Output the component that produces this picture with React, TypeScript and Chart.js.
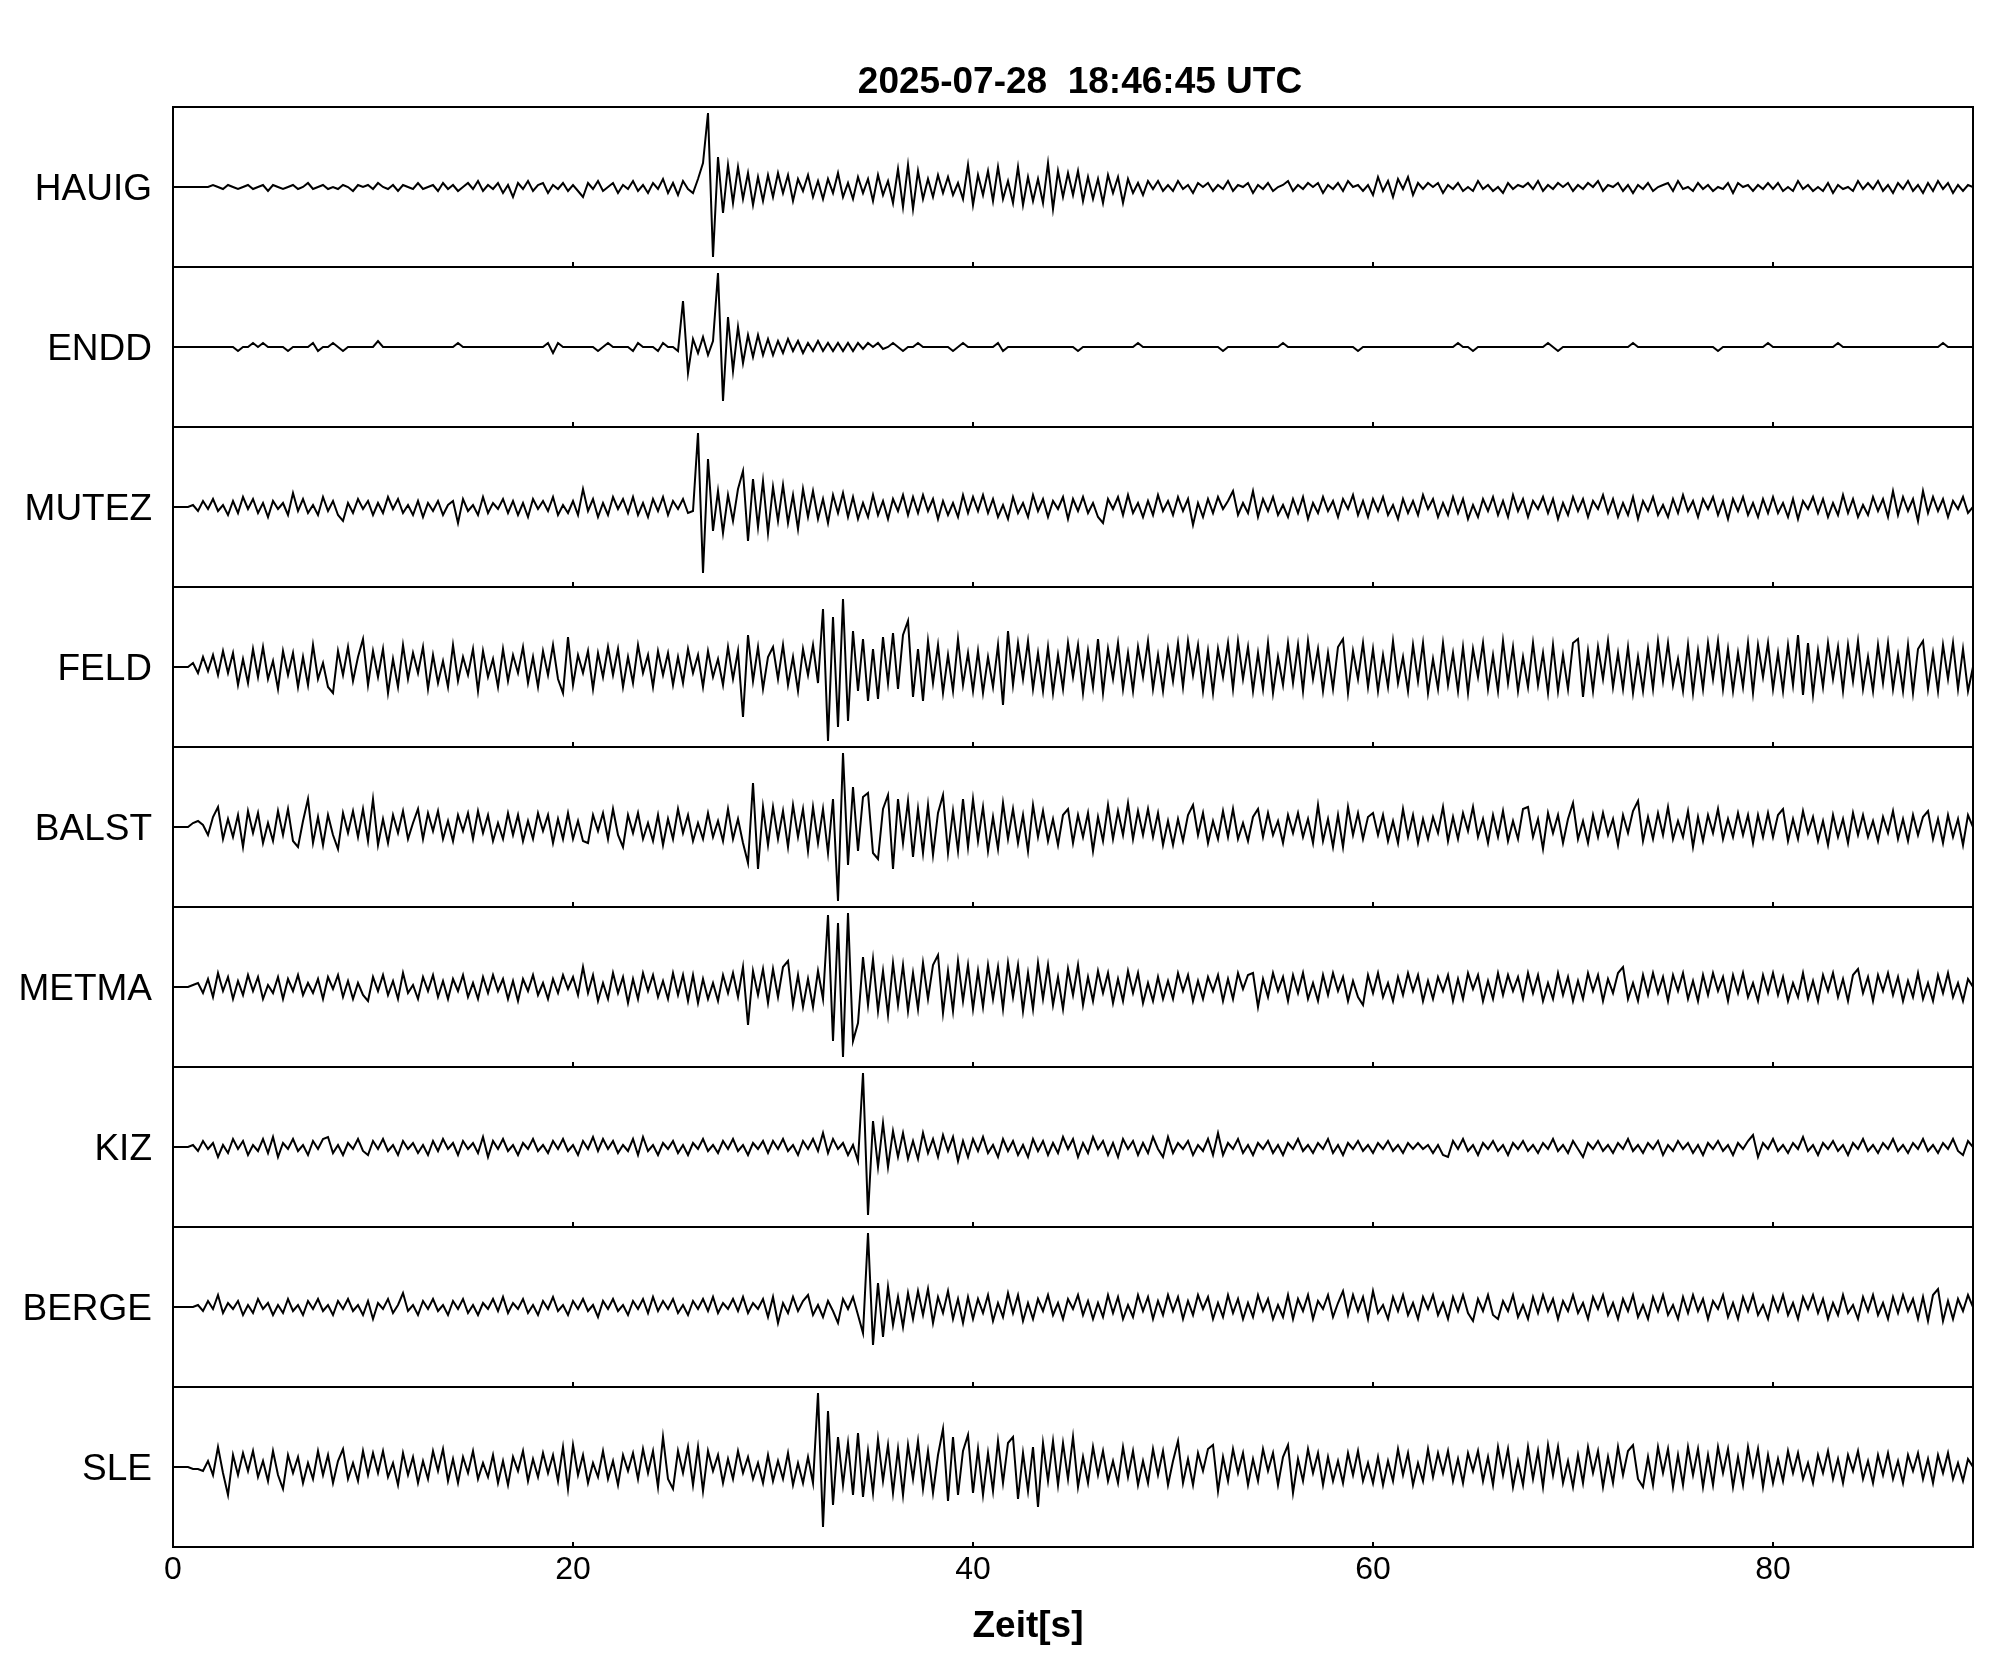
import React, { useEffect, useRef } from 'react';
import { Chart, registerables } from 'chart.js';

Chart.register(...registerables);

const TITLE = '2025-07-28  18:46:45 UTC';
const X_LABEL = 'Zeit[s]';
const STATIONS = ['HAUIG', 'ENDD', 'MUTEZ', 'FELD', 'BALST', 'METMA', 'KIZ', 'BERGE', 'SLE'];
const X_TICKS = [0, 20, 40, 60, 80];
const X_MIN = 0;
const X_MAX = 90;
const DT = 0.25; // sample interval [s]
const HALF_PANEL = 40; // amplitude units filling half a trace panel

// amplitudes, one row per 10 s (40 samples)
const HAUIG = [
  0,0,0,0,0,0,0,0, 1,0,-1,1,0,-1,0,1, -1,0,1,-2,1,0,-1,0, 1,-1,0,2,-1,0,1,-1, 0,-1,1,0,-2,1,0,1,
  -1,2,0,-1,1,-2,1,0, -1,2,-1,0,1,-2,2,-1, 1,-2,0,2,-1,3,-2,1, -1,2,-3,1,-5,2,-1,3, -2,1,2,-3,1,-1,2,-2,
  1,-2,-5,2,-1,3,-2,0, 2,-3,1,-1,3,-2,1,-3, 2,-1,4,-3,2,-4,3,-1, -3,4,12,37,-35,15,-13,11, -8,10,-6,7,-9,5,-7,6,
  -5,7,-3,6,-7,4,-2,6, -5,3,-6,4,-3,7,-5,2, -6,5,-3,4,-7,6,-4,3, -8,9,-10,11,-11,8,-6,4, -5,6,-3,5,-4,2,-6,11,
  -9,6,-4,8,-7,10,-6,3, -8,10,-9,5,-7,4,-8,12, -11,8,-5,7,-4,8,-7,5, -6,4,-8,6,-3,5,-8,4, -3,2,-4,3,-1,3,-2,1,
  -2,3,-1,1,-3,2,0,2, -2,1,-1,3,-2,1,0,2, -3,1,-1,2,-2,0,1,3, -2,1,-1,2,0,2,-3,1, -1,2,-2,3,0,1,-2,1,
  -4,5,-2,3,-5,4,-1,5, -4,2,-1,2,0,2,-3,1, -1,2,-2,0,-2,3,-1,1, -2,0,-3,2,-1,1,0,2, -1,3,-2,1,-1,2,0,2,
  -2,1,-1,2,0,3,-2,1, 0,2,-2,1,-3,1,-1,2, -2,0,1,2,-2,3,-1,0, -2,2,-1,1,-2,0,-1,2, -3,2,0,1,-2,1,-1,2,
  -1,2,-2,0,-2,3,-1,1, -2,0,-2,2,-3,1,-1,0, -2,3,-1,2,-1,3,-2,1, -3,2,-1,3,-2,1,-3,2, -2,3,-1,2,-3,1,-2,1,
  0,
];

const ENDD = [
  0,0,0,0,0,0,0,0, 0,0,0,0,0,-2,0,0, 2,0,2,0,0,0,0,-2, 0,0,0,0,2,-2,0,0, 2,0,-2,0,0,0,0,0,
  0,3,0,0,0,0,0,0, 0,0,0,0,0,0,0,0, 0,2,0,0,0,0,0,0, 0,0,0,0,0,0,0,0, 0,0,0,2,-3,2,0,0,
  0,0,0,0,0,-2,0,2, 0,0,0,0,-2,2,0,0, 0,-2,2,0,0,-2,23,-13, 4,-3,5,-4,3,37,-27,15, -12,10,-8,6,-5,6,-4,4,
  -4,3,-3,4,-2,3,-3,2, -2,3,-2,2,-2,2,-2,2, -2,2,-1,2,0,2,-1,0, 2,0,-2,0,0,2,0,0, 0,0,0,0,-2,0,2,0,
  0,0,0,0,0,2,-2,0, 0,0,0,0,0,0,0,0, 0,0,0,0,0,-2,0,0, 0,0,0,0,0,0,0,0, 0,2,0,0,0,0,0,0,
  0,0,0,0,0,0,0,0, 0,0,-2,0,0,0,0,0, 0,0,0,0,0,0,2,0, 0,0,0,0,0,0,0,0, 0,0,0,0,0,-2,0,0,
  0,0,0,0,0,0,0,0, 0,0,0,0,0,0,0,0, 0,2,0,0,-2,0,0,0, 0,0,0,0,0,0,0,0, 0,0,0,2,0,-2,0,0,
  0,0,0,0,0,0,0,0, 0,0,0,0,2,0,0,0, 0,0,0,0,0,0,0,0, 0,0,0,0,0,-2,0,0, 0,0,0,0,0,0,0,2,
  0,0,0,0,0,0,0,0, 0,0,0,0,0,2,0,0, 0,0,0,0,0,0,0,0, 0,0,0,0,0,0,0,0, 0,0,2,0,0,0,0,0,
  0,
];

const MUTEZ = [
  0,0,0,0,1,-2,3,-1, 4,-2,1,-4,3,-3,5,-1, 4,-3,2,-5,3,-1,2,-4, 7,-2,4,-3,1,-4,5,-2, 3,-4,-7,2,-3,4,-1,3,
  -4,2,-3,5,-1,4,-3,1, -4,3,-5,2,-2,3,-4,1, 3,-8,4,-2,1,-4,5,-3, 2,-1,4,-3,3,-4,2,-5, 4,-1,3,-2,5,-4,1,-3,
  3,-4,9,-2,4,-5,2,-4, 5,-1,4,-3,5,-4,2,-5, 4,-2,5,-4,3,-1,4,-3, -2,37,-33,24,-12,8,-13,6, -7,9,18,-17,14,-10,13,-13,
  10,-7,11,-8,6,-11,9,-5, 8,-6,4,-8,6,-3,7,-5, 5,-6,2,-5,6,-4,3,-6, 4,-2,6,-4,5,-3,6,-2, 4,-6,3,-4,2,-5,6,-3,
  5,-2,6,-3,4,-5,1,-6, 5,-3,2,-5,6,-2,4,-5, 3,-1,5,-6,4,-2,5,-3, 2,-5,-8,4,-1,5,-4,6, -3,2,-5,3,-4,6,-2,3,
  -4,5,-2,4,-9,2,-5,4, -3,5,-1,3,8,-4,2,-3, 8,-5,4,-2,5,-4,1,-5, 4,-3,5,-6,2,-3,5,-2, 3,-5,4,-1,6,-4,3,-5,
  4,-2,5,-4,1,-6,4,-3, 3,-4,6,-1,4,-5,2,-4, 5,-3,4,-6,1,-5,4,-2, 5,-4,3,-5,6,-2,4,-5, 3,-1,5,-3,4,-6,2,-4,
  5,-2,4,-5,3,-1,6,-3, 4,-5,2,-4,5,-6,3,-2, 5,-4,1,-5,4,-3,6,-2, 3,-5,4,-1,5,-4,3,-6, 4,-2,5,-4,2,-5,4,-3,
  5,-3,2,-5,4,-6,3,-1, 5,-3,4,-5,2,-4,6,-3, 4,-5,1,-4,5,-2,4,-5, 8,-4,5,-2,4,-7,8,-3, 5,-2,4,-5,3,-1,5,-3,
  0,
];

const FELD = [
  0,0,0,0,2,-3,5,-2, 6,-4,8,-3,7,-9,4,-8, 9,-5,10,-6,3,-11,8,-4, 7,-10,5,-9,11,-6,2,-10, -13,8,-4,10,-7,5,14,-9,
  8,-5,9,-13,4,-10,11,-6, 7,-3,10,-11,6,-8,3,-10, 11,-7,5,-4,9,-12,8,-5, 4,-10,9,-7,6,-3,10,-8, 5,-10,8,-4,11,-6,-13,15,
  -9,6,-3,8,-11,7,-5,10, -4,9,-10,5,-8,11,-3,6, -10,8,-4,7,-9,5,-8,9, -3,6,-10,8,-5,4,-9,10, -6,8,-25,16,-7,10,-11,5,
  10,-6,11,-9,5,-12,9,-4, 11,-8,29,-37,25,-30,34,-27, 18,-12,14,-17,9,-16,15,-8, 17,-11,16,23,-15,9,-17,13, -8,11,-13,6,-12,14,-9,7,
  -12,8,-13,5,-10,11,-19,18, -9,12,-6,13,-11,7,-12,10, -13,6,-11,12,-5,11,-13,8, -10,14,-13,9,-6,12,-11,7, -12,10,-5,13,-11,6,-12,9,
  -7,12,-10,13,-4,11,-12,8, -13,9,-5,12,-11,13,-6,10, -12,7,-11,12,-13,5,-9,12, -8,11,-12,13,-6,9,-12,7, -11,10,14,-13,8,-6,12,-10,
  9,-12,6,-10,13,-8,5,-12, 11,-7,12,-13,4,-11,12,-9, 7,-12,10,-13,9,-5,12,-11, 6,-12,13,-8,10,-12,5,-10, 12,-9,7,-13,11,-12,6,-11,
  12,14,-15,8,-12,10,-6,13, -10,7,-11,10,-13,5,-12,9, -11,13,-7,12,-9,4,-12,11, -13,8,-11,12,-6,13,-11,9, -12,7,-10,12,-13,11,-5,12,
  -11,7,-12,11,-9,16,-14,12, -14,8,-10,12,-6,10,-12,11, -7,13,-11,5,-12,11,-8,12, -11,6,-12,11,-13,9,13,-11, 7,-12,11,-6,12,-11,9,-12,
  0,
];

const BALST = [
  0,0,0,0,2,3,1,-4, 5,10,-6,4,-5,6,-10,8, -3,7,-8,2,-7,8,-4,9, -7,-10,3,14,-8,5,-9,6, -4,-11,7,-3,8,-5,9,-7,
  14,-9,4,-8,6,-3,8,-6, 2,9,-6,7,-2,8,-6,3, -7,6,-2,7,-6,8,-3,6, -7,2,-6,7,-4,6,-7,3, -6,7,-2,6,-8,4,-6,7,
  -6,3,-7,-8,6,-2,7,-6, 9,-4,-10,6,-3,7,-6,2, -7,6,-9,4,-6,9,-3,6, -7,2,-6,7,-5,3,-7,9, -6,4,-8,-18,22,-21,10,-9,
  10,-6,8,-10,11,-5,9,-12, 10,-8,9,-13,14,-37,37,-19, 20,-12,15,17,-13,-16,9,16, -21,14,-8,13,-15,9,-13,11, -14,7,16,-13,8,-12,14,-10,
  14,-7,10,-12,5,-11,12,-6, 9,-8,6,-12,11,-5,8,-7, 4,-9,6,9,-8,6,-5,7, -12,5,-7,11,-6,8,-4,12, -6,8,-4,9,-5,7,-9,3,
  -9,4,-7,6,11,-4,7,-8, 3,-6,8,-5,9,-6,2,-7, 5,9,-5,7,-4,3,-8,6, -3,7,-5,4,-8,11,-7,4, -10,6,-10,10,-4,7,-6,5,
  7,-4,6,-7,3,-8,9,-5, 6,-8,4,-6,5,-3,10,-7, 5,-6,7,-2,10,-5,4,-8, 6,-5,8,-7,3,-6,9,10, -5,4,-11,7,-3,6,-8,4,
  12,-6,3,-8,6,-5,7,-4, 4,-9,6,-3,8,13,-7,5, -6,7,-4,10,-6,3,-5,8, -10,5,-7,6,-3,9,-6,4, -5,7,-4,6,-8,6,-5,7,
  -5,6,9,-7,4,-6,8,-3, 5,-7,3,-9,6,-5,4,-8, 7,-4,6,-5,3,-7,5,-3, 8,-6,4,-7,6,-4,5,8, -6,4,-8,6,-5,4,-9,6,
  0,
];

const METMA = [
  0,0,0,0,1,2,-3,4, -5,7,-2,5,-6,3,-4,6, -2,5,-6,1,-3,5,-6,4, -2,6,-4,2,-3,4,-6,5, -1,6,-5,3,-6,2,-4,-7,
  5,-2,6,-4,3,-6,7,-3, 1,-6,5,-2,6,-5,3,-6, 4,-2,6,-5,2,-6,5,-3, 6,-2,4,-6,3,-7,4,-2, 6,-4,2,-6,4,-3,6,-1,
  5,-4,10,-3,6,-7,2,-6, 7,-3,5,-8,4,-6,7,-2, 6,-5,3,-6,7,-4,6,-7, 6,-8,4,-6,2,-7,6,-3, 7,-5,10,-19,8,-4,9,-8,
  9,-5,10,13,-9,6,-10,4, -10,8,-6,36,-27,32,-35,37, -27,-18,15,-9,14,-12,8,-14, 12,-9,11,-12,7,-11,12,-6, 11,16,-13,8,-12,13,-7,11,
  -11,8,-10,11,-6,10,-11,12, -5,11,-12,7,-11,12,-6,11, -9,5,-11,9,-4,11,-9,5, -7,8,-3,7,-8,4,-7,8, -3,7,-8,2,-7,5,-6,3,
  -6,7,-2,6,-7,3,-6,5, -2,6,-7,4,-6,7,-1,6, 7,-10,4,-5,7,-2,5,-7, 6,-3,7,-6,2,-7,6,-4, 7,-2,5,-7,3,-5,-9,6,
  -3,7,-5,2,-7,5,-4,7, -2,6,-7,3,-6,5,-2,6, -7,4,-6,7,-1,6,-7,3, -6,7,-4,6,-2,5,-6,7, -3,6,-7,2,-6,7,-4,5,
  -7,3,-6,7,-2,6,-7,4, -3,7,10,-6,2,-7,6,-4, 7,-3,5,-7,6,-2,7,-6, 3,-7,6,-4,7,-2,5,-7, 6,-3,7,-5,2,-7,6,-3,
  7,-4,5,-7,2,-5,7,-6, 3,-7,6,-2,7,-5,4,-7, 6,9,-3,5,-7,6,-2,7, -4,5,-7,3,-5,7,-6,2, -7,6,-3,7,-5,2,-7,4,
  0,
];

const KIZ = [
  0,0,0,0,1,-2,3,-1, 2,-5,1,-3,4,-1,3,-4, 1,-2,4,-3,5,-5,2,-1, 4,-2,1,-4,3,-1,4,5, -3,1,-4,2,-1,4,-2,-4,
  3,-1,4,-2,1,-4,3,-1, 2,-3,1,-4,3,-2,4,-1, 2,-4,3,-1,2,-3,5,-5, 3,-1,4,-2,1,-4,2,-1, 4,-2,1,-3,3,-1,4,-2,
  1,-4,3,-1,5,-2,4,-1, 3,-3,1,-2,4,-4,5,-2, 1,-4,2,-1,3,-3,1,-4, 2,-1,4,-2,1,-3,3,-1, 4,-2,1,-4,2,-1,3,-3,
  3,-1,4,-2,1,-4,3,-1, 4,-2,7,-3,4,-1,2,-4, 1,-7,37,-34,13,-10,12,-10, 8,-5,7,-6,3,-6,7,-3, 4,-5,6,-2,5,-7,3,-5,
  4,-2,5,-3,1,-5,4,-2, 3,-4,1,-5,4,-2,3,-4, 2,-3,5,-1,4,-5,2,-3, 5,-1,3,-4,2,-5,4,-1, 3,-4,2,-3,5,-1,-5,5,
  -3,2,-1,3,-4,1,-2,4, -4,7,-4,2,-1,4,-3,1, -4,2,-1,3,-3,1,-4,2, -1,4,-2,1,-3,2,-1,4, -3,1,-4,2,-1,3,-2,1,
  -3,2,-1,3,-2,1,-3,2, -1,2,-1,1,-3,1,-4,-5, 3,-1,4,-2,1,-4,2,-1, 3,-2,1,-4,2,-1,3,-2, 1,-3,2,-1,4,-2,1,-3,
  3,-1,-5,2,-1,3,-2,1, -3,2,-1,4,-2,1,-3,2, -1,3,-4,1,-2,3,-1,2, -3,1,-4,2,-1,3,-2,1, -4,2,-1,3,6,-5,2,-1,
  4,-2,1,-3,2,-1,5,-2, 1,-4,2,-1,3,-2,1,-4, 2,-1,4,-2,1,-3,2,-1, 4,-2,1,-3,2,-1,4,-2, 1,-3,2,-1,4,-2,-4,3,
  0,
];

const BERGE = [
  0,0,0,0,0,1,-2,3, -1,6,-3,2,-1,3,-4,1, -3,4,-1,2,-4,1,-3,4, -2,1,-4,3,-1,4,-2,1, -4,3,-1,4,-2,1,-4,3,
  -6,2,-1,4,-3,1,7,-2, 1,-4,3,-1,4,-2,1,-4, 3,-1,4,-3,1,-4,2,-1, 4,-2,5,-3,2,-1,4,-3, 1,-4,3,-1,5,-2,1,-4,
  3,-1,4,-2,1,-5,3,-1, 4,-2,1,-4,3,-1,4,-3, 5,-2,3,-1,4,-3,1,-4, 3,-1,4,-2,5,-3,2,-1, 4,-2,5,-3,2,-1,4,-5,
  5,-8,2,-3,5,-2,3,6, -4,1,-5,3,-2,-8,4,-1, 5,-4,-13,37,-19,12,-15,10, -9,5,-10,7,-6,8,-4,9, -8,5,-3,8,-6,4,-8,5,
  -6,4,-3,6,-7,2,-5,7, -3,6,-7,2,-6,4,-2,6, -4,2,-6,4,-1,6,-4,3, -6,2,-5,6,-3,5,-6,1, -5,6,-2,5,-6,3,-4,6,
  -2,5,-6,3,-4,6,-1,5, -6,2,-5,6,-3,4,-6,2, -5,6,-2,4,-6,1,-5,6, -6,4,-2,6,-6,3,-1,6, -5,2,8,-4,6,-2,5,-6,
  8,-3,1,-6,5,-2,6,-4, 2,-6,5,-1,6,-4,2,-6, 5,-2,6,-3,-7,4,-2,6, -4,-6,3,-2,6,-5,1,-6, 5,-3,6,-2,4,-6,3,-2,
  6,-3,2,-6,5,-1,6,-4, 2,-6,4,-2,6,-5,1,-6, 5,-2,6,-4,1,-6,5,-3, 6,-2,4,-6,3,-1,6,-5, 2,-6,5,-2,6,-4,1,-6,
  5,-2,6,-4,2,-6,5,-1, 6,-3,4,-6,2,-4,6,-3, 1,-6,5,-2,6,-4,2,-6, 5,-3,6,-2,4,-6,5,-7, 6,9,-7,3,-6,4,-2,6,
  0,
];

const SLE = [
  0,0,0,0,-1,-1,-2,3, -4,10,-3,-14,6,-4,7,-2, 8,-5,3,-7,8,-4,-11,6, -3,5,-8,2,-6,8,-4,6, -8,3,9,-6,2,-7,8,-4,
  7,-3,8,-5,2,-9,7,-4, 5,-8,3,-6,8,-2,9,-7, 4,-8,5,-3,8,-6,2,-5, 6,-8,3,-9,5,-2,8,-7, 4,-5,7,-3,6,-7,10,-11,
  11,-4,6,-8,2,-5,8,-6, 3,-9,6,-2,7,-6,9,-3, 8,-10,15,-6,-11,8,-3,10, -9,10,-12,8,-2,6,-8,4, -6,8,-3,5,-6,2,-8,6,
  -7,3,-6,7,-9,2,-8,5, -8,37,-30,28,-19,15,-9,12, -14,17,-15,8,-13,14,-7,11, -13,9,-14,11,-6,13,-11,8, -13,6,19,-17,15,-14,8,16,
  -13,9,-14,7,-12,13,-8,12, 15,-16,7,-12,10,-20,12,-7, 13,-9,12,-6,15,-10,5,-8, 10,-4,8,-7,3,-8,10,-5, 8,-9,3,-8,9,-4,8,-9,
  3,13,-8,4,-9,7,-2,9, 11,-12,5,-7,9,-3,7,-9, 4,-7,9,-2,7,-9,5,11, -13,4,-7,9,-3,7,-9,5, -7,3,-8,7,-4,8,-7,2,
  -8,5,-9,3,-7,9,-4,7, -9,2,-7,9,-5,7,-3,8, -7,4,-8,7,-2,8,-7,5, -9,10,-4,9,-10,3,-9,10, -6,8,-10,11,-4,10,-8,3,
  -10,6,-8,10,-3,8,-10,5, -8,10,-4,8,11,-6,-10,5, -9,10,-3,9,-10,6,-9,10, -4,9,-10,6,-9,10,-3,9, -10,5,-9,10,-4,9,-10,6,
  -8,4,-7,8,-3,7,-6,2, -8,6,-3,8,-6,4,-8,6, -2,8,-6,3,-8,6,-4,7, -6,3,-8,6,-2,7,-6,4, -8,6,-3,7,-6,2,-7,4,
  0,
];

const TRACES = [HAUIG, ENDD, MUTEZ, FELD, BALST, METMA, KIZ, BERGE, SLE];

const FONT = '"Liberation Sans", Arial, Helvetica, sans-serif';

const framePlugin = {
  id: 'seisFrame',
  afterDatasetsDraw(chart: any) {
    const { ctx, chartArea: a, scales } = chart;
    const xs = scales.x;
    const ys = scales.y;
    ctx.save();
    ctx.strokeStyle = '#000';
    ctx.lineWidth = 2;
    ctx.beginPath();
    for (let k = 1; k < STATIONS.length; k++) {
      const py = Math.round(ys.getPixelForValue(k));
      ctx.moveTo(a.left, py);
      ctx.lineTo(a.right, py);
    }
    ctx.stroke();
    ctx.strokeRect(a.left, a.top, a.right - a.left, a.bottom - a.top);
    ctx.beginPath();
    for (let k = 0; k < STATIONS.length; k++) {
      const py = Math.round(ys.getPixelForValue(k));
      for (const t of X_TICKS) {
        if (t <= X_MIN || t >= X_MAX) continue;
        const px = Math.round(xs.getPixelForValue(t));
        ctx.moveTo(px, py);
        ctx.lineTo(px, py - 5);
      }
    }
    ctx.stroke();
    ctx.fillStyle = '#000';
    ctx.font = `bold 37px ${FONT}`;
    ctx.textAlign = 'center';
    ctx.textBaseline = 'alphabetic';
    const cx = (a.left + a.right) / 2;
    ctx.fillText(TITLE, cx + 7, a.top - 14);
    ctx.fillText(X_LABEL, cx - 45, a.bottom + 90);
    ctx.restore();
  },
};

export default function App() {
  const ref = useRef<HTMLCanvasElement | null>(null);

  useEffect(() => {
    const canvas = ref.current;
    if (!canvas) return;
    const datasets = TRACES.map((vals, i) => ({
      label: STATIONS[i],
      data: vals.map((v, k) => ({ x: X_MIN + k * DT, y: STATIONS.length - 0.5 - i + v / (2 * HALF_PANEL) })),
      borderColor: '#000',
      borderWidth: 2,
      pointRadius: 0,
      tension: 0,
      fill: false,
    }));
    const chart = new Chart(canvas, {
      type: 'line',
      data: { datasets },
      plugins: [framePlugin],
      options: {
        animation: false,
        responsive: false,
        devicePixelRatio: 1,
        layout: { padding: { left: 0, right: 32, top: 107, bottom: 0 } },
        plugins: { legend: { display: false }, tooltip: { enabled: false }, title: { display: false } },
        scales: {
          x: {
            type: 'linear',
            min: X_MIN,
            max: X_MAX,
            grid: { display: false, drawTicks: false },
            border: { display: false },
            ticks: {
              color: '#000',
              font: { family: FONT, size: 32 },
              padding: 4,
              maxRotation: 0,
              autoSkip: false,
            },
            afterBuildTicks: (scale: any) => {
              scale.ticks = X_TICKS.map((v) => ({ value: v }));
            },
            afterFit: (scale: any) => {
              scale.height = 133;
            },
          },
          y: {
            type: 'linear',
            min: 0,
            max: STATIONS.length,
            grid: { display: false, drawTicks: false },
            border: { display: false },
            ticks: {
              color: '#000',
              font: { family: FONT, size: 37 },
              padding: 21,
              labelOffset: 3,
              autoSkip: false,
              callback: (value: any) => STATIONS[Math.round(STATIONS.length - 0.5 - Number(value))] ?? '',
            },
            afterBuildTicks: (scale: any) => {
              scale.ticks = STATIONS.map((_, i) => ({ value: STATIONS.length - 0.5 - i }));
            },
            afterFit: (scale: any) => {
              scale.width = 173;
            },
          },
        },
      },
    });
    return () => chart.destroy();
  }, []);

  return (
    <div style={{ position: 'absolute', left: 0, top: 0, width: 2005, height: 1680, background: '#fff' }}>
      <canvas ref={ref} width={2005} height={1680} style={{ width: 2005, height: 1680, display: 'block' }} />
    </div>
  );
}
